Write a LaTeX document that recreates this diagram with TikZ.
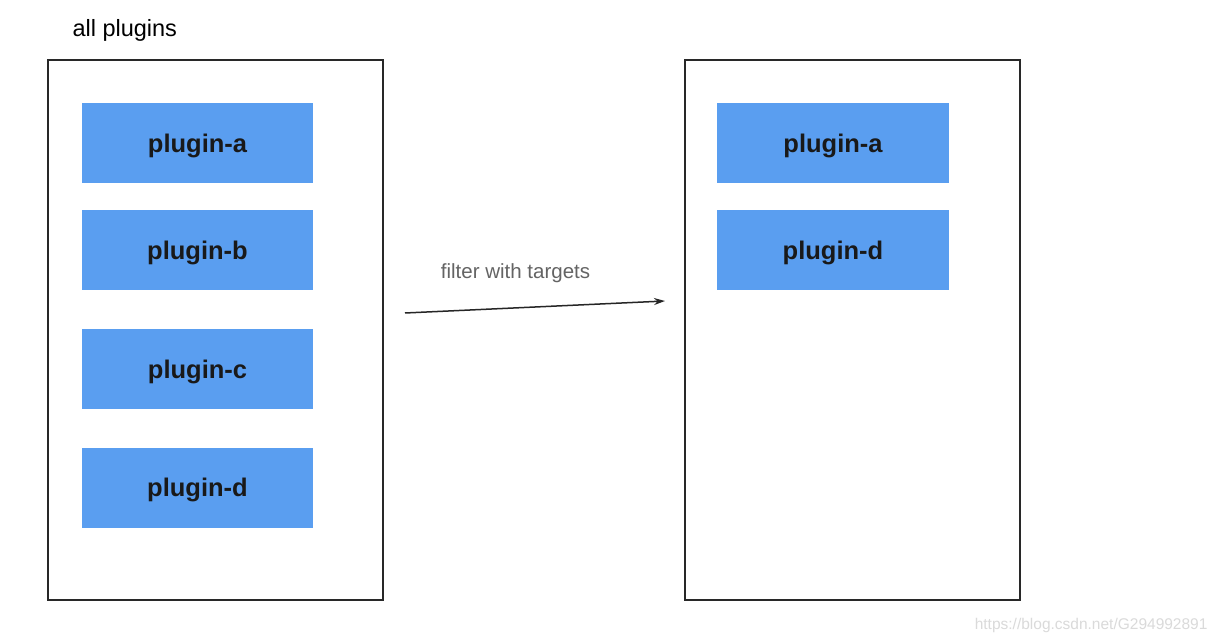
\documentclass[tikz,border=0pt]{standalone}
\usepackage{fontspec}
\setmainfont{Liberation Sans}
\usetikzlibrary{arrows.meta}
\definecolor{plugblue}{RGB}{90,158,240}
\definecolor{framec}{RGB}{40,40,40}
\definecolor{labelgrey}{RGB}{100,100,100}
\definecolor{wmgrey}{RGB}{218,218,218}
\tikzset{
  frame/.style={draw=framec, line width=1.5pt, fill=none, inner sep=0pt, minimum width=335pt, minimum height=540pt},
  plugbox/.style={fill=plugblue, draw=none, inner sep=0pt, minimum height=80pt, text depth=0pt, font=\fontsize{25.5}{30}\selectfont\bfseries, text=black!90},
  flow/.style={-{Stealth[length=11pt,width=7pt]}, line width=1.5pt, draw=black!85},
}
\begin{document}
\begin{tikzpicture}[x=1pt,y=-1pt]
\useasboundingbox (0,0) rectangle (1218,644);
\fill[white] (0,0) rectangle (1218,644);
\node[frame] (left) at (215.5,330) {};
\node[frame] (right) at (852.5,330) {};
\node[font=\fontsize{23.5}{27}\selectfont, anchor=west] (title) at (69,30) {all plugins};
\node[plugbox, minimum width=231pt] (la) at (197.5,143) {plugin-a};
\node[plugbox, minimum width=231pt] (lb) at (197.5,250) {plugin-b};
\node[plugbox, minimum width=231pt] (lc) at (197.5,369) {plugin-c};
\node[plugbox, minimum width=231pt] (ld) at (197.5,487.5) {plugin-d};
\node[plugbox, minimum width=232pt] (ra) at (833,143) {plugin-a};
\node[plugbox, minimum width=232pt] (rd) at (833,250) {plugin-d};
\coordinate (fstart) at (405,313);
\coordinate (fend) at (665,301);
\draw[flow] (fstart) -- (fend);
\node[font=\fontsize{20.5}{24}\selectfont, text=labelgrey] (flabel) at (515.5,273) {filter with targets};
\node[font=\fontsize{15.5}{18}\selectfont, text=wmgrey, anchor=east] (wm) at (1211,625) {https://blog.csdn.net/G294992891};
\end{tikzpicture}
\end{document}
